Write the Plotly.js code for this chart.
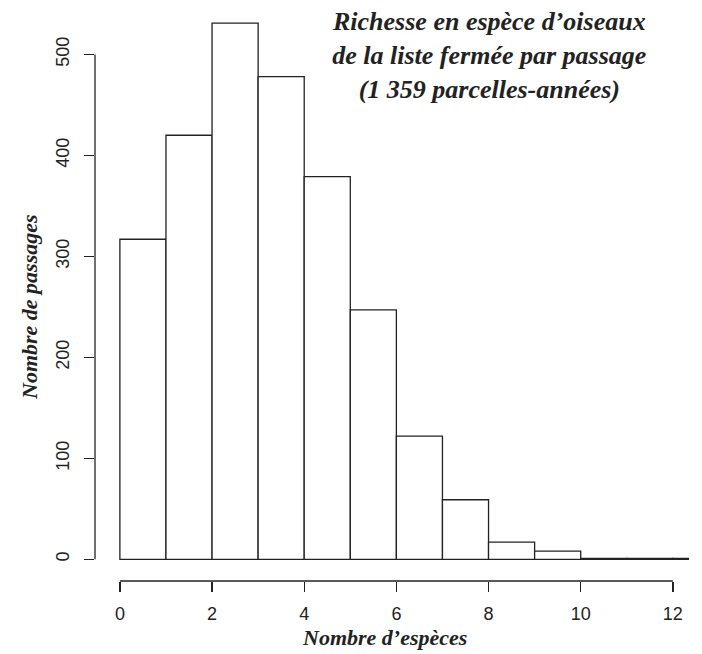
<!DOCTYPE html>
<html>
<head>
<meta charset="utf-8">
<script src="https://cdn.plot.ly/plotly-3.0.1.min.js"></script>
<style>html,body{margin:0;padding:0;background:#fff;}#chart{width:702px;height:654px;}</style>
</head>
<body>
<div id="chart"></div>
<script>
// Histogram bins (left edges) and counts
const binStarts = [0, 1, 2, 3, 4, 5, 6, 7, 8, 9, 10, 11, 12];
const counts = [317, 420, 531, 478, 379, 247, 122, 59, 17, 8, 1, 1, 1];
const binWidth = 1;
const xTicks = [0, 2, 4, 6, 8, 10, 12];
const yTicks = [0, 100, 200, 300, 400, 500];
const titleLines = ["Richesse en espèce d’oiseaux", "de la liste fermée par passage", "(1 359 parcelles-années)"];
const xTitle = "Nombre d’espèces";
const yTitle = "Nombre de passages";

const centers = binStarts.map(b => b + binWidth / 2);
const serif = "Liberation Serif, DejaVu Serif, serif";
const sans = "Liberation Sans, Arial, sans-serif";

const trace = {
  type: "bar",
  x: centers,
  y: counts,
  width: binWidth,
  marker: {color: "#ffffff", line: {color: "#222222", width: 1.3}},
  hoverinfo: "x+y"
};

const layout = {
  width: 702, height: 654,
  margin: {l: 95, r: 13, t: 2, b: 73},
  paper_bgcolor: "#fff", plot_bgcolor: "#fff",
  showlegend: false,
  bargap: 0,
  xaxis: {
    range: [-0.54, 12.35],
    tickvals: xTicks, ticktext: xTicks.map(String),
    ticks: "outside", ticklen: 10, tickwidth: 1.3, tickcolor: "#222",
    showline: false, zeroline: false, showgrid: false,
    tickfont: {family: sans, size: 18, color: "#222"},
    ticklabelstandoff: 6
  },
  yaxis: {
    range: [-21.5, 552],
    tickvals: yTicks, ticktext: yTicks.map(String),
    tickangle: -90,
    ticks: "outside", ticklen: 10, tickwidth: 1.3, tickcolor: "#222",
    showline: false, zeroline: false, showgrid: false,
    tickfont: {family: sans, size: 18, color: "#222"},
    ticklabelstandoff: 8
  },
  shapes: [
    {type: "line", xref: "x", yref: "paper", x0: xTicks[0], x1: xTicks[xTicks.length - 1], y0: 0, y1: 0,
     line: {color: "#222", width: 1.3}},
    {type: "line", xref: "paper", yref: "y", x0: 0, x1: 0, y0: yTicks[0], y1: yTicks[yTicks.length - 1],
     line: {color: "#222", width: 1.3}}
  ],
  annotations: [
    {text: "<b><i>" + titleLines.join("<br>") + "</i></b>", xref: "paper", yref: "paper",
     x: (489 - 95) / 594, y: 1, xanchor: "center", yanchor: "top", yshift: -3, showarrow: false,
     align: "center", font: {family: serif, size: 26, color: "#222"}},
    {text: "<b><i>" + xTitle + "</i></b>", xref: "paper", yref: "paper",
     x: (384 - 95) / 594, y: 0, xanchor: "center", yanchor: "middle", yshift: -56, showarrow: false,
     font: {family: serif, size: 22, color: "#222"}},
    {text: "<b><i>" + yTitle + "</i></b>", xref: "paper", yref: "paper",
     x: 0, y: (581 - 307) / 579, xanchor: "center", yanchor: "middle", xshift: -66, textangle: -90,
     showarrow: false, font: {family: serif, size: 22, color: "#222"}}
  ]
};

Plotly.newPlot("chart", [trace], layout, {displayModeBar: false, staticPlot: true});
</script>
</body>
</html>
